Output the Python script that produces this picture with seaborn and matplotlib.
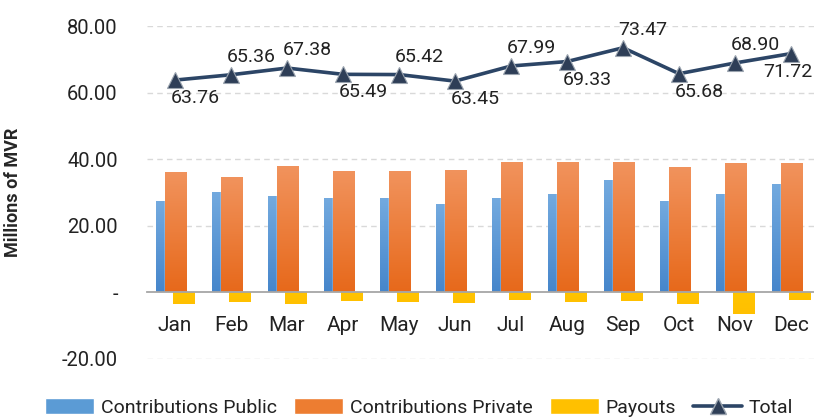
import numpy as np
import pandas as pd
import matplotlib
matplotlib.use("Agg")
import matplotlib.pyplot as plt
from matplotlib.colors import LinearSegmentedColormap
from matplotlib.lines import Line2D
from matplotlib.patches import Patch
from matplotlib.ticker import FuncFormatter
import seaborn as sns

months = ["Jan", "Feb", "Mar", "Apr", "May", "Jun", "Jul", "Aug", "Sep", "Oct", "Nov", "Dec"]
public = [27.3, 30.3, 29.1, 28.5, 28.5, 26.4, 28.5, 29.7, 33.9, 27.6, 29.7, 32.7]
private = [36.3, 34.8, 38.1, 36.6, 36.6, 36.9, 39.3, 39.3, 39.3, 37.8, 39.0, 39.0]
payouts = [-3.5, -2.9, -3.5, -2.6, -2.9, -3.2, -2.3, -2.9, -2.6, -3.5, -6.5, -2.3]
total = [63.76, 65.36, 67.38, 65.49, 65.42, 63.45, 67.99, 69.33, 73.47, 65.68, 68.90, 71.72]
label_side = ["below", "above", "above", "below", "above", "below",
              "above", "below", "above", "below", "above", "below"]

sns.set_style("white")
plt.rcParams["font.family"] = ["Roboto", "DejaVu Sans"]
plt.rcParams["text.color"] = "#222222"

pos = np.arange(len(months))
df = pd.DataFrame({"pos": pos, "month": months, "public": public,
                   "private": private, "payouts": payouts, "total": total})

fig = plt.figure(figsize=(8.14, 4.19), dpi=100)
ax = fig.add_axes([0.1806, 0.1432, 0.8256, 0.7947])

series = [
    ("public", -0.15, "#5B9BD5", ("#4686CB", "#73AADF")),
    ("private", 0.0, "#ED7D31", ("#E7691B", "#F1935D")),
    ("payouts", 0.15, "#FFC000", ("#FFC400", "#FFC000")),
]

bar_groups = []
for col, off, c, grad in series:
    n_before = len(ax.patches)
    sns.barplot(x=df["pos"] + off, y=df[col], native_scale=True, width=0.375,
                color=c, saturation=1, errorbar=None, ax=ax, zorder=2 + off)
    bar_groups.append((ax.patches[n_before:], grad))

ax.set_xlim(-0.5, 11.5)
ax.set_ylim(-20, 80)

# gradient fill inside each bar
for patches, (c_bottom, c_top) in bar_groups:
    cmap = LinearSegmentedColormap.from_list("g", [c_bottom, c_top])
    for p in patches:
        x0, y0 = p.get_x(), p.get_y()
        w, h = p.get_width(), p.get_height()
        lo, hi = min(y0, y0 + h), max(y0, y0 + h)
        grad = np.linspace(0, 1, 64).reshape(-1, 1)
        if h < 0:
            grad = grad[::-1]
        im = ax.imshow(grad, extent=[x0, x0 + w, lo, hi], origin="lower",
                       cmap=cmap, aspect="auto", zorder=p.get_zorder() + 0.01)
        im.set_clip_path(p)
ax.set_xlim(-0.5, 11.5)
ax.set_ylim(-20, 80)

sns.lineplot(data=df, x="pos", y="total", color="#2C4566", lw=2.6, marker="^",
             markersize=11, markerfacecolor="#2E3E57", markeredgecolor="#9AA3AE",
             markeredgewidth=0.8, ax=ax, zorder=6)

for i, (v, side) in enumerate(zip(total, label_side)):
    dx = -3 if i == len(total) - 1 else 20
    dy = 18 if side == "above" else -18
    ax.annotate(f"{v:.2f}", (pos[i], v), xytext=(dx, dy), textcoords="offset pixels",
                ha="center", va="center", fontsize=14, color="#222222", zorder=7)

ax.set_xticks(pos)
ax.set_xticklabels(months)
ax.set_yticks([-20, 0, 20, 40, 60, 80])
ax.yaxis.set_major_formatter(FuncFormatter(lambda v, _: "-" if v == 0 else f"{v:.2f}"))
ax.tick_params(axis="y", labelsize=14.5, length=0, pad=21, labelcolor="#222222")
ax.tick_params(axis="x", labelsize=15, length=0, pad=17, labelcolor="#222222")
ax.set_xlabel("")
ax.set_ylabel("Millions of MVR", fontsize=13, fontweight="bold")
ax.yaxis.set_label_coords(-0.186, 0.5)

for y in [-20, 20, 40, 60, 80]:
    ax.axhline(y, color="#D9D9D9", lw=1, ls=(0, (4, 3)), zorder=0)
for s in ["top", "right", "left"]:
    ax.spines[s].set_visible(False)
ax.spines["bottom"].set_position(("data", 0))
ax.spines["bottom"].set_color("#A6A6A6")
ax.spines["bottom"].set_linewidth(1.3)
ax.spines["bottom"].set_zorder(5)

handles = [
    Patch(facecolor="#5B9BD5", label="Contributions Public"),
    Patch(facecolor="#ED7D31", label="Contributions Private"),
    Patch(facecolor="#FFC000", label="Payouts"),
    Line2D([], [], color="#2C4566", lw=2.6, marker="^", markersize=11,
           markerfacecolor="#2E3E57", markeredgecolor="#9AA3AE", label="Total"),
]
fig.legend(handles=handles, loc="center", bbox_to_anchor=(0.515, 0.027), ncol=4,
           frameon=False, fontsize=14, handlelength=2.5, handleheight=0.9,
           handletextpad=0.35, columnspacing=0.9)

fig.savefig("out.png", dpi=100)
